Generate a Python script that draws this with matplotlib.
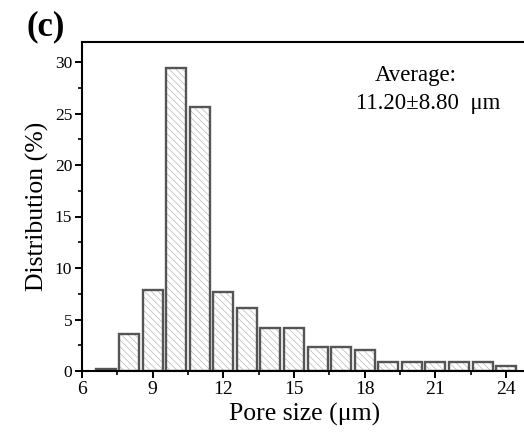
import numpy as np
import matplotlib
matplotlib.use("Agg")
import matplotlib.pyplot as plt
from matplotlib.ticker import MultipleLocator

# pore size bins (um) and share of pores in each bin (%)
pore_size = [7, 8, 9, 10, 11, 12, 13, 14, 15, 16, 17, 18, 19, 20, 21, 22, 23, 24]
distribution = [0.2, 3.6, 7.9, 29.4, 25.6, 7.7, 6.1, 4.2, 4.2, 2.3, 2.3, 2.0,
                0.85, 0.85, 0.85, 0.85, 0.85, 0.45]
x_ticks = [6, 9, 12, 15, 18, 21, 24]
y_ticks = [0, 5, 10, 15, 20, 25, 30]

plt.rcParams['font.family'] = ['Liberation Serif', 'DejaVu Serif']
plt.rcParams['hatch.linewidth'] = 0.5

W, H = 524, 432
fig = plt.figure(figsize=(W / 100, H / 100), dpi=100)
ax = fig.add_axes([82 / W, 61 / H, 446 / W, 329 / H])

# hatched fill first, then the darker outline on top
ax.bar(pore_size, distribution, width=0.85, color='white',
       edgecolor='#b8b8b8', hatch='\\\\\\\\\\', linewidth=0)
ax.bar(pore_size, distribution, width=0.85, fill=False,
       edgecolor='#555555', linewidth=1.7)

ax.set_xlim(6, 6 + 446 / 23.56)
ax.set_ylim(0, 329 / 10.3)
ax.set_xticks(x_ticks)
ax.set_yticks(y_ticks)
ax.xaxis.set_minor_locator(MultipleLocator(1.5))
ax.yaxis.set_minor_locator(MultipleLocator(2.5))
ax.tick_params(which='major', direction='out', length=5, width=1.4)
ax.tick_params(which='minor', direction='out', length=3, width=1.2)
ax.tick_params(axis='x', labelsize=14, pad=2)
ax.tick_params(axis='y', labelsize=12.5, pad=2)
for s in ax.spines.values():
    s.set_linewidth(1.5)

ax.set_xlabel('Pore size (\u03bcm)', fontsize=18.5, labelpad=4)
ax.set_ylabel('Distribution (%)', fontsize=18.5, labelpad=4)

fig.text(416 / W, 1 - 76 / H, 'Average:', fontsize=16.5, ha='center', va='center')
fig.text(428 / W, 1 - 103 / H, '11.20\u00b18.80  \u03bcm', fontsize=16.5,
         ha='center', va='center')
fig.text(46 / W, 1 - 27 / H, '(c)', fontsize=25, fontweight='bold',
         ha='center', va='center')

fig.savefig('out.png', dpi=100)
